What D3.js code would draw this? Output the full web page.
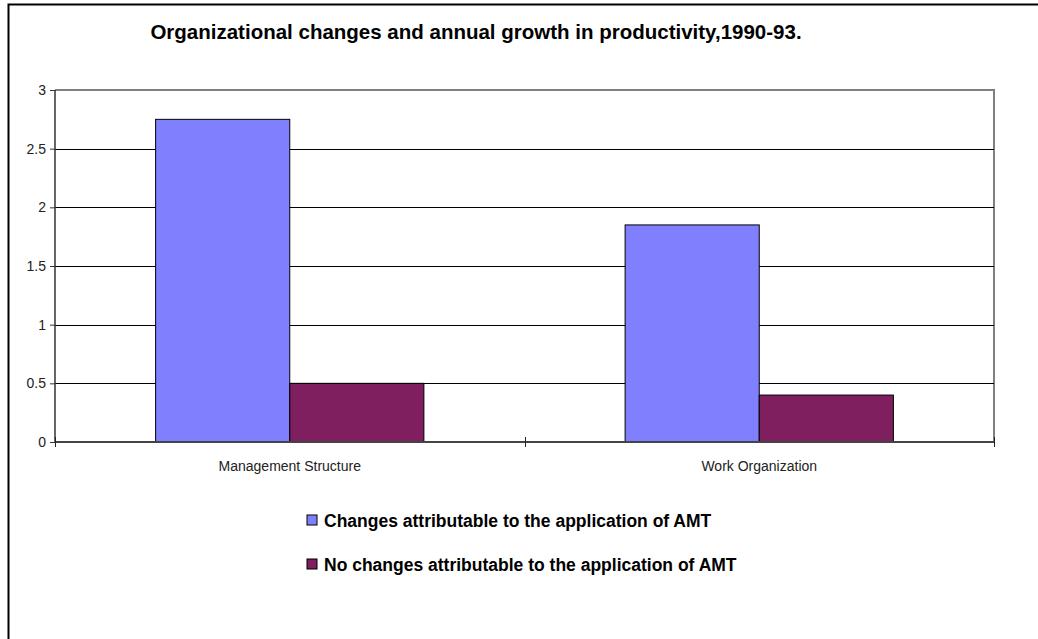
<!DOCTYPE html>
<html><head><meta charset="utf-8">
<script src="https://cdn.jsdelivr.net/npm/d3@7"></script>
<style>body{margin:0;background:#fff}svg{display:block}</style>
</head><body><svg id="c" width="1038" height="639"></svg>
<script>
const title = "Organizational changes and annual growth in productivity,1990-93.";
const categories = ["Management Structure", "Work Organization"];
const seriesNames = ["Changes attributable to the application of AMT", "No changes attributable to the application of AMT"];
const changesAMT = [2.75, 1.85];
const noChangesAMT = [0.5, 0.4];
const yTicks = [0, 0.5, 1, 1.5, 2, 2.5, 3];
const colors = ["#8080FF", "#801F5F"];

const svg = d3.select("#c");
const font = "Arial, 'Liberation Sans', sans-serif";
// outer frame
svg.append("rect").attr("x", 8.5).attr("y", 4.5).attr("width", 1100).attr("height", 700)
  .attr("fill", "#fff").attr("stroke", "#000").attr("stroke-width", 2);

const L = 55, R = 994, T = 90, B = 442;
const x = d3.scaleBand().domain(categories).range([L, R]).paddingInner(0.4286).paddingOuter(0.2143);
const x1 = d3.scaleBand().domain([0, 1]).range([0, x.bandwidth()]);
const y = d3.scaleLinear().domain([0, 3]).range([B, T]);

svg.append("text").attr("x", 476).attr("y", 39).attr("text-anchor", "middle")
  .attr("font-family", font).attr("font-weight", "bold").attr("font-size", 20.5).text(title);

// plot border (gray)
svg.append("path").attr("d", `M${L},${T}H${R}V${B}`).attr("fill", "none").attr("stroke", "#808080").attr("stroke-width", 2);
// gridlines
svg.append("g").selectAll("line").data(yTicks.filter(d => d > 0 && d < 3)).join("line")
  .attr("x1", L).attr("x2", R).attr("y1", d => Math.round(y(d)) + 0.5).attr("y2", d => Math.round(y(d)) + 0.5)
  .attr("stroke", "#000").attr("stroke-width", 1);

// bars
const data = categories.map((c, i) => ({c, v: [changesAMT[i], noChangesAMT[i]]}));
const g = svg.append("g").selectAll("g").data(data).join("g").attr("transform", d => `translate(${x(d.c)},0)`);
g.selectAll("rect").data(d => d.v.map((v, j) => ({v, j}))).join("rect")
  .attr("x", d => x1(d.j)).attr("width", x1.bandwidth())
  .attr("y", d => y(d.v)).attr("height", d => B - y(d.v))
  .attr("fill", d => colors[d.j]).attr("stroke", "#000").attr("stroke-width", 1);

// y axis
const yAxis = d3.axisLeft(y).tickValues(yTicks).tickSize(5).tickPadding(4).tickFormat(d3.format("~g"));
const ya = svg.append("g").attr("transform", `translate(${L},0)`).call(yAxis);
ya.select(".domain").attr("stroke", "#333").attr("stroke-width", 1.5).attr("d", `M0,${T}V${B}`);
ya.selectAll(".tick line").attr("stroke", "#333");
ya.selectAll("text").attr("font-family", font).attr("font-size", 14).attr("fill", "#222");

// x axis
svg.append("line").attr("x1", L).attr("x2", R).attr("y1", B).attr("y2", B).attr("stroke", "#444").attr("stroke-width", 2);
const bounds = [L, (L + R) / 2, R];
svg.append("g").selectAll("line").data(bounds).join("line")
  .attr("x1", d => Math.round(d) + 0.5).attr("x2", d => Math.round(d) + 0.5).attr("y1", B - 5).attr("y2", B + 5)
  .attr("stroke", "#222").attr("stroke-width", 1);
svg.append("g").selectAll("text").data(categories).join("text")
  .attr("x", d => x(d) + x.bandwidth() / 2).attr("y", 471).attr("text-anchor", "middle")
  .attr("font-family", font).attr("font-size", 14).attr("fill", "#222").text(d => d);

// legend
const lg = svg.append("g").selectAll("g").data(seriesNames).join("g")
  .attr("transform", (d, i) => `translate(307,${515 + i * 44})`);
lg.append("rect").attr("width", 10).attr("height", 10).attr("fill", (d, i) => colors[i]).attr("stroke", "#000");
lg.append("text").attr("x", 17).attr("y", 11.5).attr("font-family", font).attr("font-weight", "bold")
  .attr("font-size", 17.5).attr("fill", "#000").text(d => d);
</script></body></html>
